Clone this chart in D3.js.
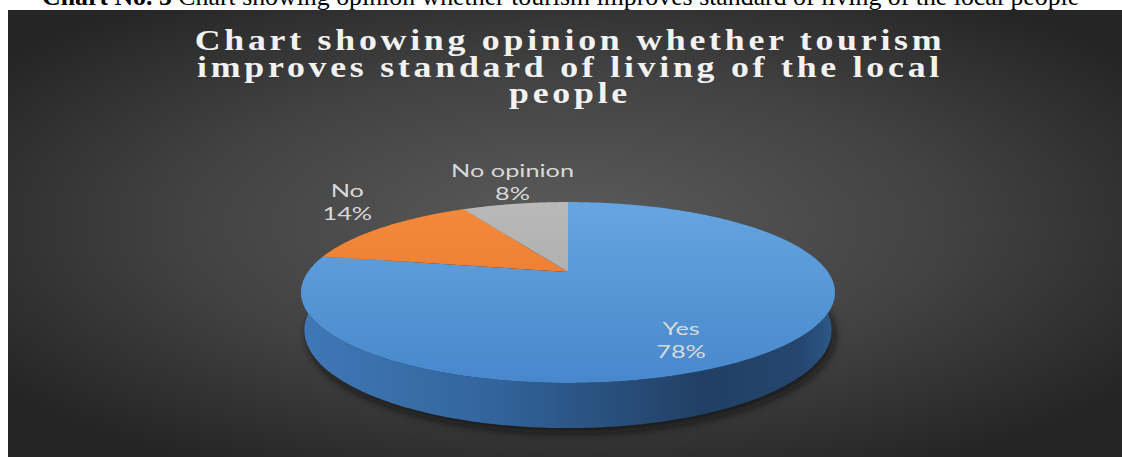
<!DOCTYPE html>
<html>
<head>
<meta charset="utf-8">
<script src="https://cdn.jsdelivr.net/npm/d3@7"></script>
<style>
  body { margin: 0; background: #ffffff; }
  svg { display: block; }
</style>
</head>
<body>
<svg id="chart" width="1122" height="457"></svg>
<script>
// ---- data ----
const categories = ["Yes", "No", "No opinion"];
const percents = [78, 14, 8];
const titleLines = [
  "Chart showing opinion whether tourism",
  "improves standard of living of the local",
  "people"
];
const captionLead = "Chart No. 5";
const captionRest = " Chart showing opinion whether tourism improves standard of living of the local people";

// ---- styles ----
const topColors = {
  "Yes":        ["#66a5df", "#4788cd"],
  "No":         ["#f48a3c", "#e47229"],
  "No opinion": ["#b9b9b9", "#a2a2a2"]
};
const wallColors = {
  "Yes":        [["0", "#3f78b7"], ["0.35", "#33659d"], ["0.75", "#213f64"], ["0.93", "#24466f"], ["1", "#2e5a8a"]],
  "No":         [["0", "#b65a20"], ["1", "#8a4216"]],
  "No opinion": [["0", "#7e7e7e"], ["1", "#5c5c5c"]]
};

const svg = d3.select("#chart");
const defs = svg.append("defs");

// ---- panel ----
const panel = { x: 8, y: 10, w: 1114, h: 447 };
const bg = defs.append("radialGradient").attr("id", "panelGrad")
  .attr("cx", "50%").attr("cy", "48%").attr("r", "62%");
bg.append("stop").attr("offset", "0%").attr("stop-color", "#5b5b5b");
bg.append("stop").attr("offset", "55%").attr("stop-color", "#424242");
bg.append("stop").attr("offset", "100%").attr("stop-color", "#252525");
svg.append("rect").attr("x", panel.x).attr("y", panel.y)
  .attr("width", panel.w).attr("height", panel.h).attr("fill", "url(#panelGrad)");

// ---- caption above the panel ----
const cap = svg.append("text").attr("x", 42).attr("y", 5)
  .attr("font-family", "'Liberation Serif', 'Times New Roman', serif")
  .attr("font-size", 22).attr("fill", "#000");
cap.append("tspan").attr("font-weight", "bold").text(captionLead);
cap.append("tspan").text(captionRest);
{
  const target = 1080 - 42;
  const w = cap.node().getComputedTextLength();
  cap.attr("font-size", 22 * target / w);
}

// ---- title ----
const titleG = svg.append("g")
  .attr("font-family", "'Liberation Serif', 'Times New Roman', serif")
  .attr("font-weight", "bold").attr("font-size", 28.5)
  .attr("letter-spacing", "3px").attr("fill", "#f2f2f2");
const titleTexts = titleLines.map(line =>
  titleG.append("text").attr("text-anchor", "middle").text(line));
const titleStretch = 751 / titleTexts[0].node().getComputedTextLength();
titleTexts.forEach((t, i) => {
  t.attr("transform", `translate(570,${50 + i * 26.5}) scale(${titleStretch},1)`);
});

// ---- 3D pie projection ----
const cam = { cx: 568, cy: 272, F: 1083, D: 4.166, sinA: 0.33 };
cam.cosA = Math.sqrt(1 - cam.sinA * cam.sinA);
const thickness = 0.15;

function project(theta, r, y) {
  const X = r * Math.sin(theta), Z = r * Math.cos(theta);
  const depth = cam.D - y * cam.sinA + Z * cam.cosA;
  const up = y * cam.cosA + Z * cam.sinA;
  return [cam.cx + cam.F * X / depth, cam.cy - cam.F * up / depth];
}
function arcPoints(a0, a1, r, y) {
  const n = Math.max(8, Math.ceil((a1 - a0) / 0.01));
  return d3.range(n + 1).map(i => project(a0 + (a1 - a0) * i / n, r, y));
}
const line = d3.line();

const arcs = d3.pie().sort(null).value(d => d)(percents);

// drop shadow under the pie
const blur = defs.append("filter").attr("id", "pieShadow")
  .attr("x", "-10%").attr("y", "-10%").attr("width", "120%").attr("height", "130%");
blur.append("feGaussianBlur").attr("stdDeviation", 5);
svg.append("path")
  .attr("d", line(arcPoints(0, 2 * Math.PI, 1, -thickness)) + "Z")
  .attr("transform", "translate(3,5)")
  .attr("fill", "#0d0d0d").attr("opacity", 0.75)
  .attr("filter", "url(#pieShadow)");

// gradients
categories.forEach((c, i) => {
  const g = defs.append("linearGradient").attr("id", "top" + i)
    .attr("gradientUnits", "userSpaceOnUse")
    .attr("x1", 0).attr("y1", 202).attr("x2", 0).attr("y2", 383);
  g.append("stop").attr("offset", 0).attr("stop-color", topColors[c][0]);
  g.append("stop").attr("offset", 1).attr("stop-color", topColors[c][1]);
  const w = defs.append("linearGradient").attr("id", "wall" + i)
    .attr("gradientUnits", "userSpaceOnUse")
    .attr("x1", 300).attr("y1", 0).attr("x2", 837).attr("y2", 0);
  wallColors[c].forEach(s => w.append("stop").attr("offset", s[0]).attr("stop-color", s[1]));
});

// outer walls
const pieG = svg.append("g");
pieG.selectAll("path.wall").data(arcs).join("path").attr("class", "wall")
  .attr("d", d => {
    const topArc = arcPoints(d.startAngle, d.endAngle, 1, 0);
    const botArc = arcPoints(d.startAngle, d.endAngle, 1, -thickness).reverse();
    return line(topArc.concat(botArc)) + "Z";
  })
  .attr("fill", (d, i) => `url(#wall${i})`);

// top faces
const apex = project(0, 0, 0);
pieG.selectAll("path.top").data(arcs).join("path").attr("class", "top")
  .attr("d", d => line([apex].concat(arcPoints(d.startAngle, d.endAngle, 1, 0))) + "Z")
  .attr("fill", (d, i) => `url(#top${i})`);

// ---- data labels ----
const labelLayout = [
  { r: 0.6, dx: 2, dy: 19 },
  { r: 1.22, dx: 0, dy: -22 },
  { r: 1.2, dx: 6, dy: -16 }
];
const labelG = svg.append("g")
  .attr("font-family", "Lato, 'Open Sans', sans-serif")
  .attr("font-size", 17).attr("fill", "#d9d9d9");
const probe = labelG.append("text").text("No opinion");
const stretch = 123 / probe.node().getComputedTextLength();
probe.remove();

const total = d3.sum(percents);
arcs.forEach((d, i) => {
  const mid = (d.startAngle + d.endAngle) / 2;
  const L = labelLayout[i];
  const p = project(mid, L.r, 0);
  const x = p[0] + L.dx, y = p[1] + L.dy;
  [categories[i], Math.round(d.value / total * 100) + "%"].forEach((t, j) => {
    labelG.append("text")
      .attr("transform", `translate(${x},${y + j * 23}) scale(${stretch},1)`)
      .attr("text-anchor", "middle").text(t);
  });
});
</script>
</body>
</html>
